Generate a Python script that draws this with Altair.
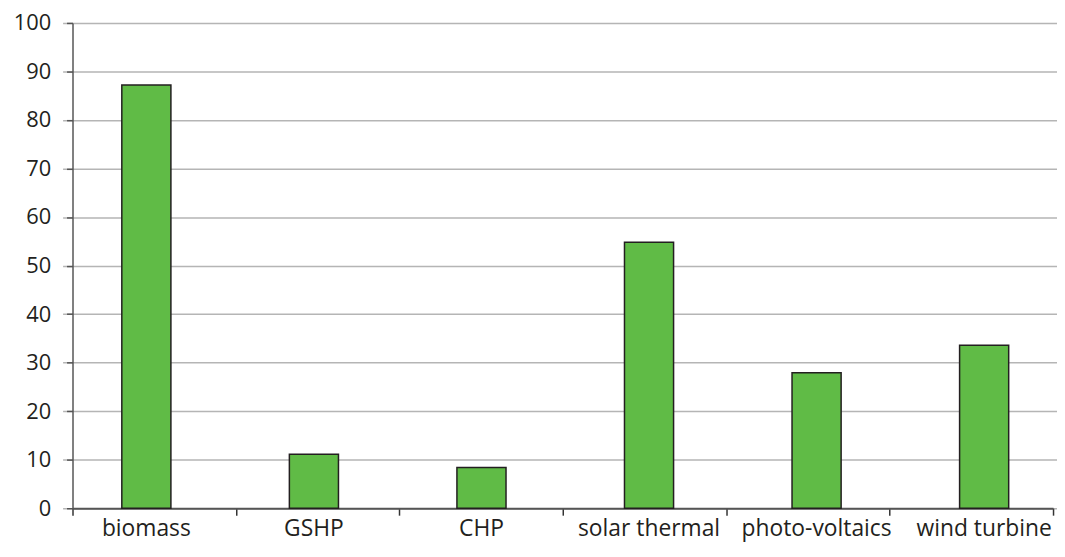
import altair as alt
import pandas as pd

categories = ["biomass", "GSHP", "CHP", "solar thermal", "photo-voltaics", "wind turbine"]
values = [87.2, 11.1, 8.4, 54.8, 27.9, 33.6]

df = pd.DataFrame({"cat": categories, "cat2": categories, "value": values})

FONT = "Open Sans"
TXT = "#231f20"

y_enc = alt.Y(
    "value:Q",
    scale=alt.Scale(domain=[0, 100], nice=False),
    axis=alt.Axis(
        values=list(range(0, 101, 10)),
        grid=True, gridColor="#b5b5b5", gridWidth=1.5,
        domainColor="#555555", domainWidth=1.5,
        tickColor="#555555", tickWidth=1.5, tickSize=6,
        labelFont=FONT, labelFontSize=22, labelColor=TXT, labelPadding=16,
        title=None,
    ),
)

bars = alt.Chart(df).mark_bar(
    color="#60bb46", stroke="#231f20", strokeWidth=1.5
).encode(
    x=alt.X(
        "cat:N", sort=categories,
        scale=alt.Scale(range=[-10, 1003], paddingInner=0.707, paddingOuter=0.3535),
        axis=alt.Axis(
            orient="bottom", domain=False, ticks=False, labelAngle=0,
            labelFont=FONT, labelFontSize=23, labelColor=TXT, labelPadding=9,
            title=None,
        ),
    ),
    y=y_enc,
)

ticks = alt.Chart(df).mark_point(opacity=0).encode(
    x=alt.X(
        "cat2:N", sort=categories,
        scale=alt.Scale(paddingInner=0, paddingOuter=0),
        axis=alt.Axis(
            orient="bottom", labels=False, tickBand="extent",
            domainColor="#555555", domainWidth=2,
            tickColor="#333333", tickWidth=1.5, tickSize=7,
            title=None, grid=False,
        ),
    ),
    y=alt.Y("value:Q"),
)

chart = alt.layer(bars, ticks).resolve_scale(x="independent").properties(
    width=988, height=489,
    autosize=alt.AutoSizeParams(type="none"),
    padding={"left": 65, "top": 13, "right": 4, "bottom": 34},
).configure_view(stroke=None)

chart.save("out.html", embed_options={"renderer": "svg", "actions": False})
